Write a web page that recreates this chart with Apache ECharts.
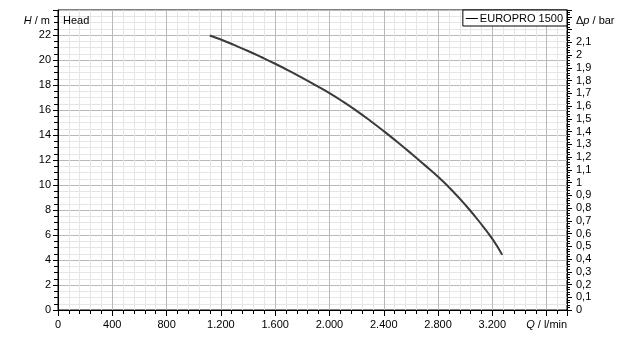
<!DOCTYPE html>
<html>
<head>
<meta charset="utf-8">
<script src="https://cdn.jsdelivr.net/npm/echarts@6/dist/echarts.min.js"></script>
<style>
html,body{margin:0;padding:0;background:#fff;}
#c{width:625px;height:340px;}
</style>
</head>
<body>
<div id="c"></div>
<script>
// Flow rate Q (l/min) and head H (m)
const flowQ = [1118, 1200, 1300, 1400, 1500, 1600, 1700, 1800, 1900, 2000, 2100, 2200, 2300, 2400, 2500, 2600, 2700, 2800, 2900, 3000, 3100, 3200, 3273];
const headH = [21.96, 21.64, 21.19, 20.72, 20.22, 19.70, 19.15, 18.57, 17.97, 17.35, 16.67, 15.93, 15.14, 14.31, 13.44, 12.54, 11.61, 10.66, 9.60, 8.42, 7.12, 5.69, 4.41];
const seriesName = 'EUROPRO 1500';
const xTickLabels = ['0', '400', '800', '1.200', '1.600', '2.000', '2.400', '2.800', '3.200', '{i|Q} / l/min'];
const yLeftTicks = [0, 2, 4, 6, 8, 10, 12, 14, 16, 18, 20, 22];
const yRightMaxLabel = 2.1;
const xMax = 3750, yMax = 24, barPerMeter = 0.0981;

const FONT = 'Liberation Sans';
const chart = echarts.init(document.getElementById('c'), null, {renderer: 'canvas'});
const lbl = {color: '#000', fontFamily: FONT, fontSize: 11};
const ital = {i: {fontStyle: 'italic', color: '#000', fontFamily: FONT, fontSize: 11}};

chart.setOption({
  animation: false,
  backgroundColor: '#fff',
  title: {text: 'Head', left: 63, top: 15, padding: 0,
    textStyle: {fontFamily: FONT, fontSize: 11, fontWeight: 'normal', color: '#000'}},
  legend: {
    right: 58, top: 10, orient: 'horizontal',
    backgroundColor: '#fff', borderColor: '#000', borderWidth: 1, borderRadius: 0,
    padding: [3, 4, 2, 3], itemWidth: 12, itemHeight: 1, itemGap: 4,
    icon: 'rect',
    textStyle: {fontFamily: FONT, fontSize: 11, color: '#000', padding: [0, 0, 0, -3]},
    data: [{name: seriesName, itemStyle: {color: '#000'}}]
  },
  grid: {left: 58, right: 58, top: 10, bottom: 30, show: true, borderColor: '#000', borderWidth: 1, containLabel: false},
  xAxis: {
    type: 'value', min: 0, max: xMax, interval: 400,
    axisLine: {show: true, onZero: false, lineStyle: {color: '#000'}},
    axisTick: {show: true, length: 6, lineStyle: {color: '#000'}},
    minorTick: {show: true, splitNumber: 5, length: 4, lineStyle: {color: '#000'}},
    splitLine: {show: true, lineStyle: {color: '#b9b9b9', width: 1}},
    minorSplitLine: {show: true, lineStyle: {color: '#e6e6e6', width: 1}},
    axisLabel: Object.assign({}, lbl, {margin: 9, showMaxLabel: false, rich: ital,
      formatter: v => (v % 400 === 0 && v / 400 < xTickLabels.length) ? xTickLabels[v / 400] : ''})
  },
  yAxis: [
    {
      type: 'value', min: 0, max: yMax, interval: 2, position: 'left',
      name: '{i|H} / m', nameLocation: 'end', nameGap: -11,
      nameTextStyle: Object.assign({}, lbl, {align: 'right', verticalAlign: 'middle', padding: [0, 8, 0, 0], rich: ital}),
      axisLine: {show: true, onZero: false, lineStyle: {color: '#000'}},
      axisTick: {show: true, length: 5, lineStyle: {color: '#000'}},
      minorTick: {show: true, splitNumber: 4, length: 4, lineStyle: {color: '#000'}},
      splitLine: {show: true, lineStyle: {color: '#b9b9b9', width: 1}},
      minorSplitLine: {show: true, lineStyle: {color: '#e6e6e6', width: 1}},
      axisLabel: Object.assign({}, lbl, {margin: 7,
        formatter: v => yLeftTicks.indexOf(v) >= 0 ? String(v) : ''})
    },
    {
      type: 'value', min: 0, max: yMax * barPerMeter, interval: 0.1, position: 'right',
      name: 'Δ{i|p} / bar', nameLocation: 'end', nameGap: -11,
      nameTextStyle: Object.assign({}, lbl, {align: 'left', verticalAlign: 'middle', padding: [0, 0, 0, 9], rich: ital}),
      axisLine: {show: true, onZero: false, lineStyle: {color: '#000'}},
      axisTick: {show: true, length: 5, lineStyle: {color: '#000'}},
      minorTick: {show: true, splitNumber: 5, length: 3, lineStyle: {color: '#000'}},
      splitLine: {show: false},
      axisLabel: Object.assign({}, lbl, {margin: 9,
        formatter: v => {
          const r = Math.round(v * 10) / 10;
          if (Math.abs(v - r) > 1e-6) return '';
          if (r > yRightMaxLabel + 0.05) return '';
          return String(r).replace('.', ',');
        }})
    }
  ],
  series: [{
    name: seriesName, type: 'line', yAxisIndex: 0,
    data: flowQ.map((q, i) => [q, headH[i]]),
    showSymbol: false, smooth: true,
    lineStyle: {color: '#3a3a3a', width: 2},
    itemStyle: {color: '#000'}
  }]
});
</script>
</body>
</html>
